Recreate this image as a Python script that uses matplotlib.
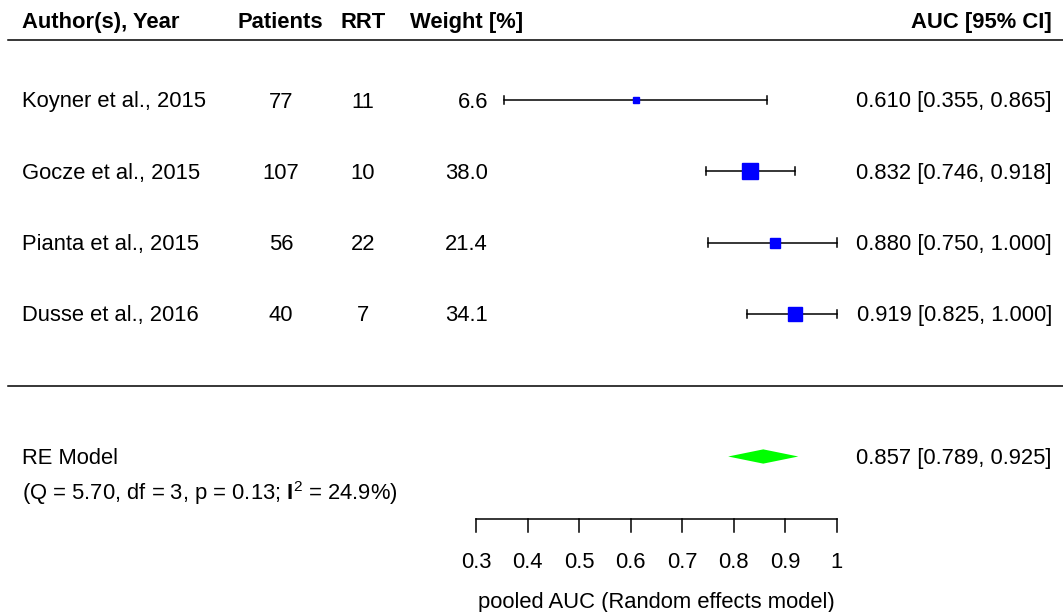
import numpy as np
import matplotlib
matplotlib.use('Agg')
import matplotlib.pyplot as plt

plt.rcParams['font.family'] = ['Liberation Sans', 'DejaVu Sans']
plt.rcParams['mathtext.fontset'] = 'custom'
plt.rcParams['mathtext.rm'] = 'Liberation Sans'
plt.rcParams['mathtext.bf'] = 'Liberation Sans:bold'

# data
studies = ['Koyner et al., 2015', 'Gocze et al., 2015', 'Pianta et al., 2015', 'Dusse et al., 2016']
patients = [77, 107, 56, 40]
rrt = [11, 10, 22, 7]
weights = [6.6, 38.0, 21.4, 34.1]
auc = [0.610, 0.832, 0.880, 0.919]
ci_low = [0.355, 0.746, 0.750, 0.825]
ci_high = [0.865, 0.918, 1.000, 1.000]
pooled = 0.857
pooled_low = 0.789
pooled_high = 0.925
stats_text = r'(Q = 5.70, df = 3, p = 0.13; $\mathbf{I}^2$ = 24.9%)'
xticks = [0.3, 0.4, 0.5, 0.6, 0.7, 0.8, 0.9, 1.0]
xtick_labels = ['0.3', '0.4', '0.5', '0.6', '0.7', '0.8', '0.9', '1']

W, H = 1063, 612
fs = 15.8
dy = 0.03  # small downward nudge for text baselines
fig = plt.figure(figsize=(W / 100, H / 100), dpi=100)
ax = fig.add_axes([0, 0, 1, 1])
ax.axis('off')

# x in AUC units: 0.3 -> px 476, 1.0 -> px 837
ppu = (837 - 476) / 0.7
ax.set_xlim(0.3 - 476 / ppu, 0.3 + (W - 476) / ppu)
ax.set_ylim(7.18, -1.40)

trans = ax.get_yaxis_transform()  # x in axes fraction, y in rows


def col(px):
    return px / W


rows = np.arange(len(studies))

# header
hy = -1.12 + dy
ax.text(col(22), hy, 'Author(s), Year', fontsize=fs, fontweight='bold', va='center', transform=trans)
ax.text(col(280), hy, 'Patients', fontsize=fs, fontweight='bold', va='center', ha='center', transform=trans)
ax.text(col(363), hy, 'RRT', fontsize=fs, fontweight='bold', va='center', ha='center', transform=trans)
ax.text(col(410), hy, 'Weight [%]', fontsize=fs, fontweight='bold', va='center', transform=trans)
ax.text(col(1052), hy, 'AUC [95% CI]', fontsize=fs, fontweight='bold', va='center', ha='right', transform=trans)
ax.plot([col(8), 1], [-0.84, -0.84], color='black', lw=1.1, transform=trans)
ax.plot([col(8), 1], [4.01, 4.01], color='black', lw=1.1, transform=trans)

for i in rows:
    ty = i + dy
    ax.text(col(22), ty, studies[i], fontsize=fs, va='center', transform=trans)
    ax.text(col(281), ty, str(patients[i]), fontsize=fs, va='center', ha='center', transform=trans)
    ax.text(col(363), ty, str(rrt[i]), fontsize=fs, va='center', ha='center', transform=trans)
    ax.text(col(488), ty, f'{weights[i]:.1f}', fontsize=fs, va='center', ha='right', transform=trans)
    ax.text(col(1052), ty, f'{auc[i]:.3f} [{ci_low[i]:.3f}, {ci_high[i]:.3f}]',
            fontsize=fs, va='center', ha='right', transform=trans)
    # CI line with end caps
    ax.plot([ci_low[i], ci_high[i]], [i, i], color='black', lw=1.1)
    ax.plot([ci_low[i], ci_low[i]], [i - 0.06, i + 0.06], color='black', lw=1.1)
    ax.plot([ci_high[i], ci_high[i]], [i - 0.06, i + 0.06], color='black', lw=1.1)
    side_px = 3.9 + 0.318 * weights[i]
    ax.plot(auc[i], i, marker='s', color='blue', markersize=side_px / 1.389, zorder=3, lw=0)

# pooled
ry = 5.0
dh = 0.10
ax.fill([pooled_low, pooled, pooled_high, pooled], [ry, ry - dh, ry, ry + dh],
        color='#00ff00', lw=0)
ax.text(col(22), ry + dy, 'RE Model', fontsize=fs, va='center', transform=trans)
ax.text(col(22), 5.48 + dy, stats_text, fontsize=fs, va='center', transform=trans)
ax.text(col(1052), ry + dy, f'{pooled:.3f} [{pooled_low:.3f}, {pooled_high:.3f}]',
        fontsize=fs, va='center', ha='right', transform=trans)

# x axis
ay = 5.88
ax.plot([xticks[0], xticks[-1]], [ay, ay], color='black', lw=1.1)
for t, lab in zip(xticks, xtick_labels):
    ax.plot([t, t], [ay, ay + 0.18], color='black', lw=1.1)
    ax.text(t, 6.45 + dy, lab, fontsize=fs, ha='center', va='center')
ax.text((xticks[0] + xticks[-1]) / 2, 7.01 + dy, 'pooled AUC (Random effects model)',
        fontsize=fs, ha='center', va='center')

fig.savefig('out.png', dpi=100)
